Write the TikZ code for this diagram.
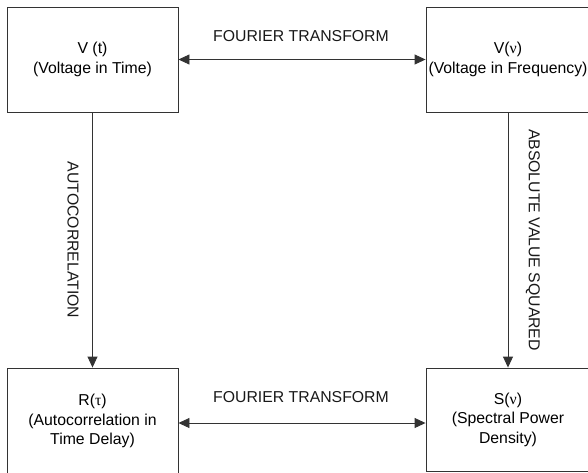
\documentclass[tikz,border=0pt]{standalone}
\usepackage{fontspec}
\setmainfont{Liberation Sans}
\newfontfamily\grk{Liberation Serif}
\usepackage{tikz}
\usetikzlibrary{positioning, calc, arrows.meta}

\begin{document}
\begin{tikzpicture}[x=1pt, y=-1pt, font=\fontsize{15.8}{19.5}\selectfont]

		\tikzstyle{quant}=[draw=black!80, line width=0.9pt, align=center, inner sep=0pt]
		\tikzstyle{link}=[draw=black!80, line width=0.9pt, -{Triangle[length=11pt, width=10pt]}]
		\tikzstyle{linkb}=[link, {Triangle[length=11pt, width=10pt]}-{Triangle[length=11pt, width=10pt]}]
		\tikzstyle{tag}=[text=black!90, inner sep=0pt]

		\useasboundingbox (0,0) rectangle (588,472);
		\clip (0,0) rectangle (588,472);

		% the four quantities
		\node (vt) at (92.5,59.5) [quant, minimum width=171pt, minimum height=105pt] {V (t)\\(Voltage in Time)};
		\node (vnu) at (508,59.5) [quant, minimum width=164pt, minimum height=105pt] {V({\grk ν})\\(Voltage in Frequency)};
		\node (rtau) at (92.5,421) [quant, minimum width=171pt, minimum height=106pt] {R({\grk τ})\\(Autocorrelation in\\Time Delay)};
		\node (snu) at (508,419.5) [quant, minimum width=164pt, minimum height=103pt] {S({\grk ν})\\(Spectral Power\\Density)};

		% transforms between them
		\draw [linkb] (vt) -- (vnu);
		\draw [linkb] ($(rtau.east)+(0,2)$) -- ($(snu.west)+(0,3.5)$);
		\draw [link] (vt) -- (rtau);
		\draw [link] (vnu.south) -- (vnu.south |- rtau.north);

		\node (ft1) at (301,36) [tag] {FOURIER TRANSFORM};
		\node (ft2) at (301,397) [tag] {FOURIER TRANSFORM};
		\node (acorr) at (73,240) [tag, rotate=-90] {AUTOCORRELATION};
		\node (absq) at (533,240) [tag, rotate=-90] {ABSOLUTE VALUE SQUARED};

\end{tikzpicture}
\end{document}
